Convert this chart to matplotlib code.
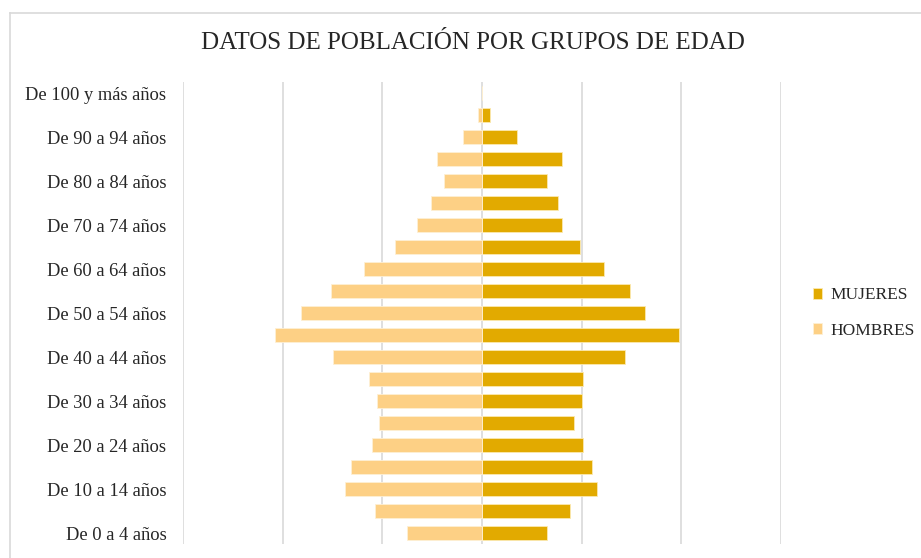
import matplotlib.pyplot as plt
from matplotlib.lines import Line2D

plt.rcParams["font.family"] = ["Liberation Serif", "DejaVu Serif"]

grupos = [
    "De 0 a 4 años", "De 5 a 9 años", "De 10 a 14 años", "De 15 a 19 años",
    "De 20 a 24 años", "De 25 a 29 años", "De 30 a 34 años", "De 35 a 39 años",
    "De 40 a 44 años", "De 45 a 49 años", "De 50 a 54 años", "De 55 a 59 años",
    "De 60 a 64 años", "De 65 a 69 años", "De 70 a 74 años", "De 75 a 79 años",
    "De 80 a 84 años", "De 85 a 89 años", "De 90 a 94 años", "De 95 a 99 años",
    "De 100 y más años",
]
mujeres = [65, 88, 115, 110, 101, 92, 100, 101, 143, 198, 164, 148,
           122, 98, 80, 76, 65, 80, 35, 8, 0]
hombres = [75, 107, 137, 131, 110, 103, 105, 113, 150, 208, 182, 152,
           118, 87, 65, 51, 38, 45, 19, 4, 0]

c_muj = "#E2AA00"
c_hom = "#FDD085"
grid_c = "#D9D9D9"

fig = plt.figure(figsize=(9.21, 5.58), dpi=100)
ax = fig.add_axes([183 / 921, 14 / 558, 598 / 921, 462 / 558])

y = range(len(grupos))
ax.barh(y, mujeres, height=0.64, color=c_muj, edgecolor="#FBE9B0", lw=0.6,
        label="MUJERES", zorder=3)
ax.barh(y, [-v for v in hombres], height=0.64, color=c_hom, edgecolor="#FEF0D5",
        lw=0.6, label="HOMBRES", zorder=3)

ax.set_xlim(-300, 300)
ax.set_ylim(-0.5, len(grupos) - 0.5)
ax.set_xticks(range(-300, 301, 100))
ax.set_xticklabels([])
ax.xaxis.grid(True, color=grid_c, lw=1.2, zorder=0)
ax.set_yticks(list(y)[::2])
ax.set_yticklabels(grupos[::2], fontsize=13.3, color="#262626")
ax.tick_params(length=0, pad=12)
ax.tick_params(axis="x", pad=0)
for s in ax.spines.values():
    s.set_visible(False)

fig.text(473 / 921, 1 - 43 / 558, "DATOS DE POBLACIÓN POR GRUPOS DE EDAD",
         ha="center", va="center", fontsize=18, color="#262626")

ax.legend(loc="center left", bbox_to_anchor=(797 / 921, 1 - 313 / 558),
          bbox_transform=fig.transFigure, frameon=False, fontsize=12.5,
          handlelength=0.55, handleheight=0.55, handletextpad=0.45,
          labelspacing=1.1, labelcolor="#262626")

# chart frame
fig.add_artist(Line2D([10 / 921, 1], [1 - 12.5 / 558] * 2, color=grid_c, lw=1.2,
                      transform=fig.transFigure))
fig.add_artist(Line2D([10 / 921] * 2, [0, 1 - 12.5 / 558], color=grid_c, lw=1.2,
                      transform=fig.transFigure))

fig.savefig("out.png", dpi=100)
